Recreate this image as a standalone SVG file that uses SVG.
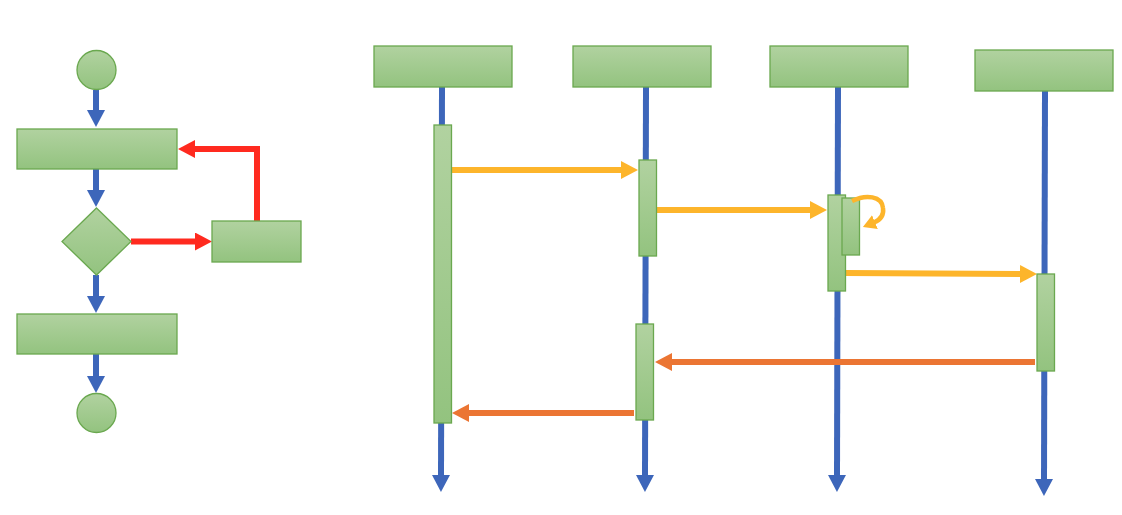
<svg xmlns="http://www.w3.org/2000/svg" width="1122" height="515" viewBox="0 0 1122 515">
<defs>
<linearGradient id="g" x1="0" y1="0" x2="0" y2="1">
<stop offset="0" stop-color="#B1D2A0"/>
<stop offset="1" stop-color="#93C37F"/>
</linearGradient>
<marker id="hb" markerUnits="userSpaceOnUse" markerWidth="18" markerHeight="18" refX="1" refY="9" orient="auto" viewBox="0 0 18 18"><path d="M0,0 L17,9 L0,18 z" fill="#3D66BA"/></marker>
<marker id="hr" markerUnits="userSpaceOnUse" markerWidth="18" markerHeight="18" refX="1" refY="9" orient="auto" viewBox="0 0 18 18"><path d="M0,0 L17,9 L0,18 z" fill="#FF2A1F"/></marker>
<marker id="hy" markerUnits="userSpaceOnUse" markerWidth="18" markerHeight="18" refX="1" refY="9" orient="auto" viewBox="0 0 18 18"><path d="M0,0 L17,9 L0,18 z" fill="#FDB52B"/></marker>
<marker id="hys" markerUnits="userSpaceOnUse" markerWidth="15" markerHeight="15" refX="1" refY="7.5" orient="auto" viewBox="0 0 15 15"><path d="M0,0 L13,7.5 L0,15 z" fill="#FDB52B"/></marker>
<marker id="ho" markerUnits="userSpaceOnUse" markerWidth="18" markerHeight="18" refX="1" refY="9" orient="auto" viewBox="0 0 18 18"><path d="M0,0 L17,9 L0,18 z" fill="#EB7533"/></marker>
</defs>
<style>
.n{fill:url(#g);stroke:#6AA84F;stroke-width:1.3}
.b{fill:none;stroke:#3D66BA;stroke-width:6;marker-end:url(#hb)}
.bl{fill:none;stroke:#3D66BA;stroke-width:6}
.r{fill:none;stroke:#FF2A1F;stroke-width:6;marker-end:url(#hr)}
.y{fill:none;stroke:#FDB52B;stroke-width:6;marker-end:url(#hy)}
.o{fill:none;stroke:#EB7533;stroke-width:6;marker-end:url(#ho)}
</style>
<rect width="1122" height="515" fill="#FFFFFF"/>

<g id="connectors">
<!-- flowchart -->
<line class="b" x1="96" y1="90" x2="96" y2="111"/>
<line class="b" x1="96" y1="169" x2="96" y2="191"/>
<line class="b" x1="96" y1="275" x2="96" y2="297"/>
<line class="b" x1="96" y1="354" x2="96" y2="377"/>
<line class="r" x1="131" y1="241.5" x2="196" y2="241.5"/>
<polyline class="r" points="257,221 257,149 194,149"/>
<!-- lifelines -->
<line class="b" x1="442" y1="87" x2="441" y2="476"/>
<line class="b" x1="646" y1="87" x2="645" y2="476"/>
<line class="b" x1="838" y1="87" x2="837" y2="476"/>
<line class="b" x1="1045" y1="91" x2="1044" y2="480"/>
<!-- messages -->
<line class="y" x1="451" y1="170" x2="622" y2="170"/>
<line class="y" x1="657" y1="210" x2="811" y2="210"/>
<line class="y" x1="846" y1="273" x2="1021" y2="274"/>
<line class="o" x1="1035" y1="362" x2="671" y2="362"/>
<line class="o" x1="634" y1="413" x2="468" y2="413"/>
</g>

<g id="start"><circle class="n" cx="96.5" cy="70" r="19.5"/></g>
<g id="step1"><rect class="n" x="17" y="129" width="160" height="40"/></g>
<g id="decision"><polygon class="n" points="96.5,208 131,241.5 96.5,275 62,241.5"/></g>
<g id="step2"><rect class="n" x="212" y="221" width="89" height="41"/></g>
<g id="step3"><rect class="n" x="17" y="314" width="160" height="40"/></g>
<g id="end"><circle class="n" cx="96.5" cy="413" r="19.5"/></g>

<g id="obj1"><rect class="n" x="374" y="46" width="138" height="41"/></g>
<g id="obj2"><rect class="n" x="573" y="46" width="138" height="41"/></g>
<g id="obj3"><rect class="n" x="770" y="46" width="138" height="41"/></g>
<g id="obj4"><rect class="n" x="975" y="50" width="138" height="41"/></g>

<g id="act1"><rect class="n" x="434" y="125" width="17.5" height="298"/></g>
<g id="act2"><rect class="n" x="639" y="160" width="17.5" height="96"/></g>
<g id="act3"><rect class="n" x="828" y="195" width="17.5" height="96"/></g>
<g id="act3b"><rect class="n" x="842" y="198" width="17.5" height="57"/></g>
<g id="act4"><rect class="n" x="1037" y="274" width="17.5" height="97"/></g>
<g id="act5"><rect class="n" x="636" y="324" width="17.5" height="96"/></g>

<g id="selfloop">
<path d="M852,201 C866,194 882,196 883,208 C884,215 880,220 874,222.5" fill="none" stroke="#FDB52B" stroke-width="4.5" marker-end="url(#hys)"/>
</g>
</svg>
